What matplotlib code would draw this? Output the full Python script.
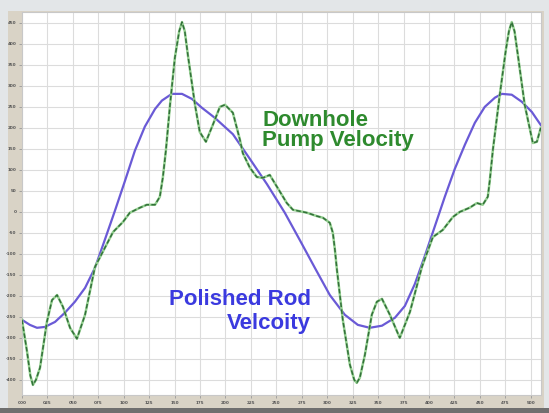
import matplotlib.pyplot as plt
import matplotlib.patches as mpatches
import numpy as np

# polished rod velocity (blue)
rod_x = [0, 0.31, 0.59, 0.90, 1.30, 1.69, 2.08, 2.48, 2.87, 3.26, 3.65, 4.05, 4.44,
         4.83, 5.23, 5.50, 5.89, 6.29, 6.68, 7.07, 7.58, 8.29, 8.96, 9.63, 10.33,
         10.92, 11.51, 12.10, 12.69, 13.20, 13.67, 14.15, 14.66, 15.05, 15.44, 15.84,
         16.23, 16.62, 17.01, 17.41, 17.80, 18.19, 18.59, 18.86, 19.25, 19.65, 20.04,
         20.39]
rod_v = [-257, -269, -276, -274, -262, -240, -214, -181, -133, -66, 2, 74, 146,
         203, 245, 265, 281, 281, 269, 248, 224, 185, 126, 66, -2,
         -67, -133, -198, -245, -269, -276, -271, -252, -224, -172, -104,
         -34, 36, 102, 160, 212, 250, 272, 281, 279, 262, 238,
         207]

# downhole pump velocity (green)
pump_x = [0, 0.20, 0.33, 0.43, 0.55, 0.71, 0.98, 1.18, 1.38, 1.61, 1.89, 2.16, 2.48,
          2.87, 3.58, 3.97, 4.24, 4.64, 4.91, 5.23, 5.42, 5.54, 5.66, 5.82, 6.01,
          6.18, 6.29, 6.40, 6.52, 6.80, 6.99, 7.23, 7.50, 7.78, 7.98, 8.29, 8.57,
          8.68, 8.96, 9.23, 9.47, 9.74, 10.02, 10.41, 10.65, 11.20, 11.59, 11.83,
          12.10, 12.22, 12.30, 12.38, 12.61, 12.89, 13.06, 13.16, 13.28, 13.48, 13.75,
          13.95, 14.15, 14.46, 14.85, 15.25, 15.72, 16.15, 16.54, 16.94, 17.21, 17.60,
          17.88, 18.11, 18.31, 18.39, 18.51, 18.78, 19.02, 19.14, 19.25, 19.36, 19.49,
          19.76, 20.08, 20.24, 20.39]
pump_v = [-257, -333, -390, -412, -400, -371, -262, -210, -198, -226, -276, -302, -245,
          -131, -48, -24, -2, 10, 17, 17, 36, 83, 148, 255, 367,
          430, 452, 430, 374, 255, 190, 167, 207, 250, 255, 236, 171,
          140, 105, 83, 81, 88, 60, 21, 5, -2, -10, -14,
          -26, -50, -90, -138, -257, -364, -400, -407, -395, -340, -245,
          -214, -207, -245, -300, -238, -131, -60, -43, -12, 0, 10,
          21, 17, 36, 76, 148, 279, 386, 430, 452, 430, 374,
          255, 164, 167, 200]

x_ticks = list(range(0, 21))
x_labels = ['%03d' % (i * 25) for i in x_ticks]
y_ticks = list(range(-400, 451, 50))
y_labels = [str(v) for v in y_ticks]

fig = plt.figure(figsize=(5.49, 4.13), dpi=100)
fig.patch.set_facecolor('#e3e6e8')
# beige frame strips around the plot
fig.patches.append(mpatches.Rectangle((0.015, 0.012), 0.975, 0.962, transform=fig.transFigure,
                                      facecolor='#d9d3c6', edgecolor='none', zorder=-2))
fig.patches.append(mpatches.Rectangle((0, 0), 1, 0.012, transform=fig.transFigure,
                                      facecolor='#6f6f6f', edgecolor='none', zorder=-2))

ax = fig.add_axes([0.040, 0.0436, 0.9454, 0.9274])
ax.set_zorder(1)
ax.set_facecolor('white')
ax.set_xlim(0, 20.4)
ax.set_ylim(-436, 476)
ax.set_xticks(x_ticks)
ax.set_xticklabels(x_labels, fontsize=3, color='#555555', fontweight='bold')
ax.set_yticks(y_ticks)
ax.set_yticklabels(y_labels, fontsize=3, color='#555555', fontweight='bold')
ax.tick_params(length=2, width=0.6, color='#999999', pad=2)
ax.grid(True, color='#dcdcdc', linewidth=0.8)
ax.set_axisbelow(True)
for s in ax.spines.values():
    s.set_color('#c8c8c8')
    s.set_linewidth(0.8)

ax.plot(rod_x, rod_v, color='#6a5ad6', linewidth=1.6, zorder=3)
ax.plot(pump_x, pump_v, color='#94d090', linewidth=1.8, zorder=4)
ax.plot(pump_x, pump_v, color='#33703a', linewidth=1.1, linestyle=(0, (3, 1.5)), zorder=5)

ax.text(9.45, 243, 'Downhole\nPump Velocity', color='#2e8a2e', fontsize=16,
        fontweight='bold', family='Liberation Sans', ha='left', va='top',
        linespacing=0.95, zorder=6)
ax.text(11.36, -184, 'Polished Rod\nVelcoity', color='#3b3adf', fontsize=16,
        fontweight='bold', family='Liberation Sans', ha='right', va='top',
        linespacing=1.2, multialignment='right', zorder=6)

fig.savefig('out.png', dpi=100, facecolor=fig.get_facecolor())
